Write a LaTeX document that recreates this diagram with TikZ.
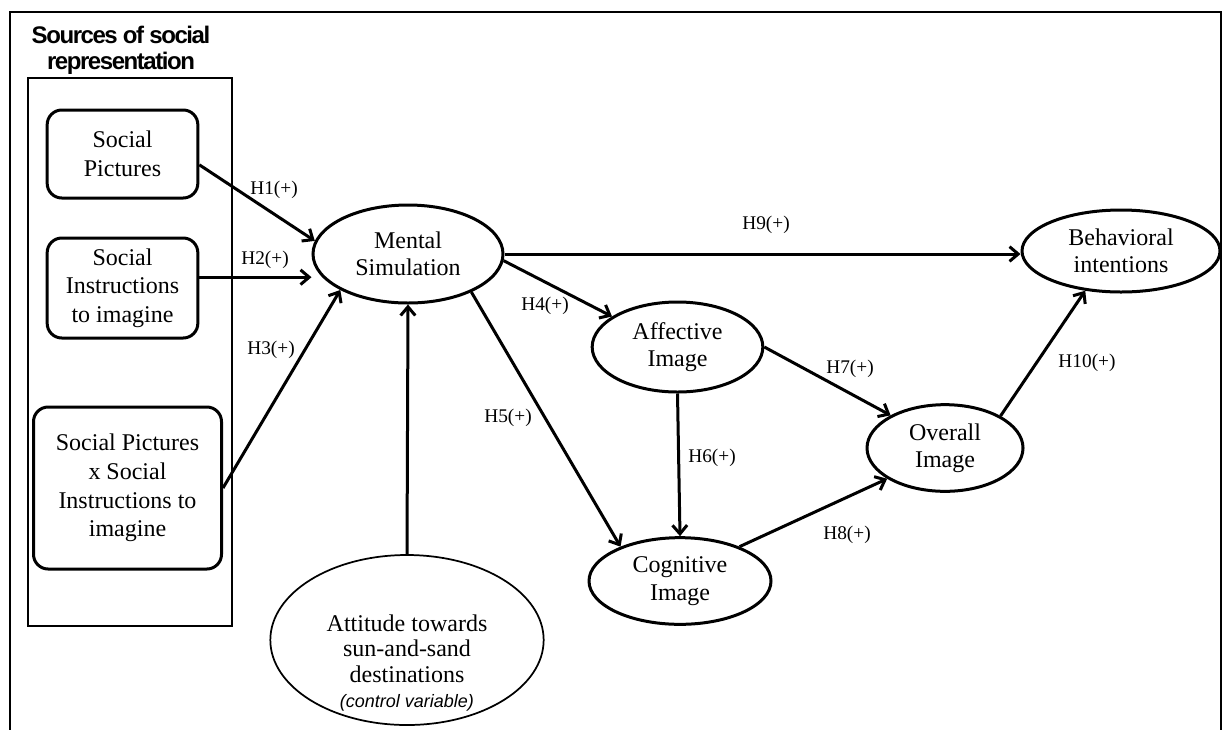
\documentclass[tikz,border=0pt]{standalone}
\usepackage{fontspec}
\setmainfont{Liberation Serif}
\newfontfamily\headfont[LetterSpace=-6]{Liberation Sans}
\newfontfamily\notefont{Liberation Sans}
\usetikzlibrary{shapes.geometric,arrows.meta}
\tikzset{every picture/.style={line width=0.75pt}}
\tikzset{
  construct/.style={draw, ellipse, line width=2.25pt, inner sep=0pt, align=center, font=\fontsize{18}{20.5}\selectfont},
  source/.style={draw, rounded corners=11pt, line width=2.25pt, inner sep=0pt, align=center, font=\fontsize{18}{21.5}\selectfont},
  hyp/.style={line width=2.25pt, -{Straight Barb[length=6.5pt,width=11pt]}},
  hlabel/.style={inner sep=0pt, font=\fontsize{14.5}{17}\selectfont}
}

\begin{document}
\begin{tikzpicture}[x=0.75pt,y=0.75pt,yscale=-1,xscale=1]
\useasboundingbox (0,0) rectangle (1226,729);
\draw [line width=1.5pt] (10,740) -- (10,12) -- (1221,12) -- (1221,740) ;
\draw (121,26) node (ttl) [anchor=north, inner sep=0pt, align=center, font=\headfont\bfseries\fontsize{18}{19}\selectfont] {Sources of social\\representation};
\draw [line width=1.1pt] (28,78) rectangle (232,626) ;
% sources
\draw (122.5,154) node (sp) [source, minimum width=113pt, minimum height=66pt] {Social\\Pictures};
\draw (122.5,288) node (si) [source, minimum width=113pt, minimum height=75pt] {Social\\Instructions\\to imagine};
\draw (127.5,488) node (spsi) [source, minimum width=141pt, minimum height=121.5pt] {Social Pictures\\x Social\\Instructions to\\imagine};
% constructs
\draw (408,254) node (ms) [construct, minimum width=142.5pt, minimum height=73.5pt] {Mental\\Simulation};
\draw (1121,251) node (bi) [construct, minimum width=148.5pt, minimum height=61.5pt] {Behavioral\\intentions};
\draw (677.5,347) node (ai) [construct, minimum width=128pt, minimum height=67.5pt] {Affective\\Image};
\draw (680,581) node (ci) [construct, minimum width=136.5pt, minimum height=65pt] {Cognitive\\Image};
\draw (945,448) node (oi) [construct, minimum width=117pt, minimum height=65pt] {Overall\\Image};
\draw (407,640) node (atbox) [draw, ellipse, line width=1.3pt, inner sep=0pt, minimum width=205pt, minimum height=127.5pt] {};
\draw (407,663) node (attx) [inner sep=0pt, align=center, font=\fontsize{18}{19}\selectfont] {Attitude towards\\sun-and-sand\\destinations\\{\notefont\itshape\fontsize{13.5}{16}\selectfont (control variable)}};
% paths
\draw [hyp] (sp.-8) -- (ms.172) ;
\draw [hyp] (si.8) -- (ms.west |- si.8) ;
\draw [hyp] (spsi.east) -- (ms.208) ;
\draw [hyp] (atbox.north) -- (ms.south) ;
\draw [hyp] (ms.east) -- (bi.west |- ms.east) ;
\draw [hyp] (ms.-4) -- (ai.155) ;
\draw [hyp] (ms.-31) -- (ci.150) ;
\draw [hyp] (ai.south) -- (ci.north) ;
\draw [hyp] (ai.east) -- (oi.149) ;
\draw [hyp] (ci.30) -- (oi.208) ;
\draw [hyp] (oi.30) -- (bi.228) ;
% hypotheses
\draw (274,190) node (h1) [hlabel] {H1(+)};
\draw (265,260) node (h2) [hlabel] {H2(+)};
\draw (271,350) node (h3) [hlabel] {H3(+)};
\draw (545,306) node (h4) [hlabel] {H4(+)};
\draw (508,418) node (h5) [hlabel] {H5(+)};
\draw (712,458) node (h6) [hlabel] {H6(+)};
\draw (850,369) node (h7) [hlabel] {H7(+)};
\draw (847,535) node (h8) [hlabel] {H8(+)};
\draw (766,225) node (h9) [hlabel] {H9(+)};
\draw (1087,363) node (h10) [hlabel] {H10(+)};
\end{tikzpicture}
\end{document}
